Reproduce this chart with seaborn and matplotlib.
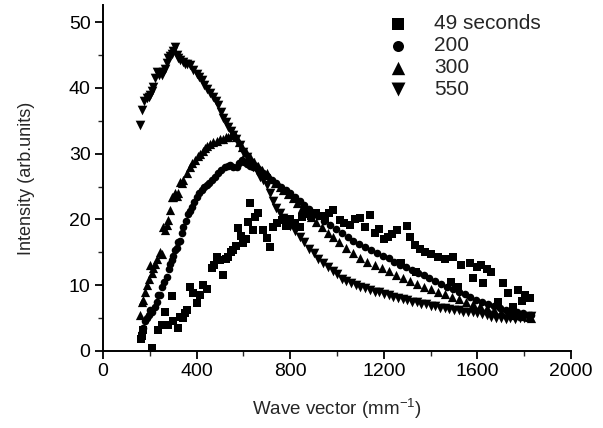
import numpy as np
import pandas as pd
import matplotlib
matplotlib.use("Agg")
import matplotlib.pyplot as plt
import seaborn as sns
from matplotlib.ticker import MultipleLocator

# ---- data ----
x_49 = [160, 165, 172, 208, 236, 250, 265, 278, 293, 300, 320, 329, 340, 350, 360,
        371, 385, 400, 414, 428, 443, 464, 475, 485, 499, 513, 524, 534, 545, 555,
        566, 577, 588, 598, 609, 620, 628, 641, 649, 662, 684, 699, 713, 726, 745,
        763, 780, 800, 820, 841, 850, 870, 890, 912, 930, 950, 965, 983, 1012, 1030,
        1055, 1075, 1097, 1120, 1140, 1161, 1180, 1200, 1218, 1236, 1254, 1275, 1297,
        1311, 1332, 1339, 1355, 1375, 1400, 1431, 1460, 1489, 1495, 1516, 1530, 1567,
        1580, 1600, 1617, 1625, 1640, 1660, 1687, 1708, 1729, 1751, 1772, 1790, 1805, 1823]
y_49 = [1.8, 2.2, 3.2, 0.4, 3.2, 4.0, 6.0, 4.0, 8.3, 4.6, 3.5, 5.2, 5.0, 5.7, 6.3,
        9.8, 8.8, 7.3, 8.5, 10.0, 9.5, 12.6, 13.0, 14.3, 13.8, 11.5, 14.0, 14.3, 15.0, 15.4,
        16.0, 18.7, 17.5, 16.4, 17.0, 19.6, 22.5, 18.4, 20.4, 21.0, 18.4, 17.2, 15.8, 18.9, 19.5,
        19.9, 19.0, 20.0, 19.5, 18.9, 20.4, 21.5, 20.5, 21.0, 20.5, 20.0, 21.0, 21.4, 19.9, 19.5,
        19.1, 20.0, 20.2, 18.8, 20.7, 17.9, 18.5, 17.0, 17.4, 17.8, 18.4, 13.4, 19.0,
        17.4, 16.1, 12.0, 15.5, 15.1, 14.8, 14.3, 14.0, 10.5, 14.3, 9.8, 13.0, 13.4,
        11.1, 12.8, 13.1, 10.3, 12.5, 12.0, 7.5, 10.3, 8.8, 6.7, 9.3, 7.6, 8.5, 8.0]

x_200 = [165, 172, 179, 186, 194, 201, 210, 222, 230, 236, 243, 250, 260, 272, 280,
         286, 293, 300, 307, 315, 322, 329, 336, 343, 354, 364, 372, 379, 390, 400,
         410, 421, 432, 443, 453, 464, 478, 492, 506, 521, 532, 542, 556, 571, 582,
         592, 603, 614, 628, 642, 656, 670, 685, 700, 720, 740, 760, 780, 800, 820,
         840, 860, 880, 900, 920, 945, 970, 995, 1020, 1045, 1070, 1095, 1120, 1145,
         1170, 1195, 1220, 1245, 1270, 1295, 1320, 1345, 1370, 1395, 1420, 1445, 1470,
         1495, 1520, 1545, 1570, 1595, 1620, 1645, 1670, 1695, 1720, 1745, 1770, 1795, 1820, 1830]
y_200 = [2.9, 3.5, 4.5, 5.0, 5.5, 6.2, 6.0, 6.7, 7.5, 8.5, 8.5, 9.8, 10.5, 11.3, 12.4,
         13.3, 13.8, 14.5, 15.3, 15.6, 16.6, 16.8, 17.9, 18.9, 19.8, 20.9, 21.3, 21.9, 22.6, 23.4,
         24.0, 24.5, 24.9, 25.2, 25.6, 26.0, 26.5, 27.0, 27.5, 28.0, 28.2, 28.3, 28.0, 28.0, 28.6,
         29.0, 28.8, 28.5, 28.2, 28.0, 27.8, 27.4, 27.0, 26.6, 26.0, 25.5, 25.0, 24.5, 24.0, 23.4,
         22.8, 22.2, 21.6, 21.0, 20.5, 19.8, 19.2, 18.6, 18.0, 17.4, 16.8, 16.3, 15.8, 15.3,
         14.9, 14.5, 14.1, 13.6, 13.1, 12.7, 12.3, 11.9, 11.5, 11.1, 10.6, 10.2, 9.8,
         9.4, 9.0, 8.6, 8.2, 7.8, 7.5, 7.2, 6.9, 6.6, 6.3, 6.1, 5.9, 5.7, 5.5, 5.4]

x_300 = [158, 165, 172, 179, 186, 195, 201, 208, 215, 222, 230, 243, 250, 258, 265,
         272, 279, 286, 293, 300, 307, 315, 322, 329, 336, 343, 357, 371, 382, 393,
         404, 414, 425, 436, 446, 457, 471, 485, 500, 514, 525, 535, 545, 555, 566,
         580, 595, 610, 628, 645, 660, 680, 699, 715, 735, 755, 770, 790, 810, 830,
         850, 870, 890, 912, 935, 960, 983, 1010, 1040, 1070, 1100, 1130, 1160, 1190,
         1220, 1250, 1280, 1310, 1340, 1370, 1400, 1430, 1460, 1490, 1520, 1550, 1580,
         1610, 1640, 1670, 1700, 1730, 1760, 1790, 1820, 1830]
y_300 = [5.5, 7.5, 7.8, 9.0, 10.0, 11.0, 13.0, 11.8, 12.6, 13.3, 14.0, 15.1, 14.8, 18.9, 18.4,
         19.2, 19.9, 21.4, 23.4, 23.4, 24.0, 23.6, 24.0, 25.7, 25.5, 26.0, 27.0, 28.0, 28.6, 29.0,
         29.6, 30.0, 30.4, 30.8, 31.2, 31.5, 31.8, 32.0, 32.2, 32.3, 32.5, 32.6, 32.8, 33.0, 32.5,
         31.8, 31.0, 30.2, 29.5, 28.8, 28.2, 27.6, 27.0, 26.3, 25.6, 25.0, 24.5, 23.8, 23.2, 22.5,
         21.8, 21.0, 20.4, 19.6, 18.8, 18.0, 17.3, 16.5, 15.6, 14.9, 14.2, 13.6, 13.1, 12.6,
         12.1, 11.6, 11.1, 10.7, 10.2, 9.8, 9.4, 9.0, 8.6, 8.2, 7.9, 7.5, 7.2,
         6.9, 6.6, 6.2, 5.9, 5.7, 5.5, 5.3, 5.2, 5.0]

x_550 = [158, 165, 175, 186, 195, 201, 210, 215, 222, 229, 238, 250, 258, 265, 272,
         279, 286, 293, 300, 307, 315, 322, 329, 340, 350, 360, 371, 385, 400, 410,
         421, 432, 443, 457, 471, 482, 492, 503, 514, 525, 535, 546, 556, 570, 585,
         600, 614, 628, 642, 656, 670, 685, 699, 713, 727, 741, 755, 770, 785, 800,
         820, 841, 860, 880, 900, 920, 940, 960, 983, 1000, 1020, 1040, 1060, 1080,
         1100, 1120, 1140, 1160, 1180, 1200, 1220, 1240, 1260, 1280, 1300, 1320, 1340,
         1360, 1380, 1400, 1420, 1440, 1460, 1480, 1500, 1520, 1540, 1560, 1580, 1600,
         1620, 1640, 1660, 1680, 1700, 1720, 1740, 1760, 1780, 1800, 1820, 1830]
y_550 = [34.3, 36.7, 38.0, 38.5, 38.7, 38.9, 39.5, 40.2, 41.5, 42.5, 42.0, 41.9, 42.4, 42.9, 43.8,
         44.5, 44.8, 45.2, 45.6, 46.3, 45.0, 44.5, 44.2, 44.0, 43.7, 43.6, 43.5, 42.8, 42.2, 41.7,
         41.2, 40.5, 39.9, 39.2, 38.6, 38.0, 37.4, 36.4, 35.4, 34.8, 34.1, 33.4, 32.8, 32.2, 31.3,
         30.3, 29.5, 28.6, 28.0, 27.3, 26.5, 26.0, 25.3, 24.0, 22.8, 21.8, 21.0, 20.2, 19.7, 19.0,
         18.2, 17.4, 16.6, 15.5, 14.9, 14.0, 13.4, 12.8, 12.1, 11.7, 11.0, 10.6, 10.3, 10.0,
         9.7, 9.6, 9.3, 9.0, 8.9, 8.7, 8.5, 8.2, 8.0, 7.9, 7.7, 7.5, 7.4,
         7.2, 7.1, 6.9, 6.8, 6.6, 6.5, 6.4, 6.3, 6.2, 6.0, 5.9, 5.9, 5.8,
         5.6, 5.4, 5.2, 5.0, 5.0, 4.9, 5.0, 4.9, 5.0, 5.0, 5.1, 5.3]

labels = ["49 seconds", "200", "300", "550"]
markers = ["s", "o", "^", "v"]
sizes = [30, 30, 44, 48]

# ---- style ----
sns.set_style("ticks")
plt.rcParams['font.family'] = ['Liberation Sans', 'DejaVu Sans']
plt.rcParams['mathtext.fontset'] = 'custom'
plt.rcParams['mathtext.rm'] = 'Liberation Sans'
plt.rcParams['mathtext.it'] = 'Liberation Sans'

frames = []
for lab, xs, ys in zip(labels, [x_49, x_200, x_300, x_550], [y_49, y_200, y_300, y_550]):
    frames.append(pd.DataFrame({"q": xs, "I": ys, "t": lab}))
df = pd.concat(frames, ignore_index=True)

fig = plt.figure(figsize=(6.03, 4.28), dpi=100)
ax = fig.add_axes([0.171, 0.180, 0.776, 0.808])

for lab, m, s in zip(labels, markers, sizes):
    sub = df[df["t"] == lab]
    sns.scatterplot(data=sub, x="q", y="I", marker=m, s=s, color="black",
                    edgecolor="black", linewidth=0, label=lab, ax=ax)

ax.set_xlim(0, 2000)
ax.set_ylim(0, 52.6)
ax.xaxis.set_major_locator(MultipleLocator(400))
ax.xaxis.set_minor_locator(MultipleLocator(200))
ax.yaxis.set_major_locator(MultipleLocator(10))
ax.yaxis.set_minor_locator(MultipleLocator(5))
ax.tick_params(which="major", direction="out", length=6, width=1.3, labelsize=14, colors="black", pad=3)
ax.tick_params(which="minor", direction="out", length=3.5, width=1.0)
sns.despine(ax=ax)
for sp in ["left", "bottom"]:
    ax.spines[sp].set_linewidth(1.4)
    ax.spines[sp].set_color("black")

ax.set_xlabel("Wave vector (mm$^{-1}$)", fontsize=13.5, labelpad=12)
ax.set_ylabel("Intensity (arb.units)", fontsize=13, labelpad=24)

leg = ax.legend(loc="upper left", bbox_to_anchor=(0.56, 1.01), frameon=False,
                fontsize=15, handletextpad=0.7, labelspacing=0.14, borderaxespad=0.2,
                markerscale=1.45)

fig.savefig("out.png", dpi=100)
